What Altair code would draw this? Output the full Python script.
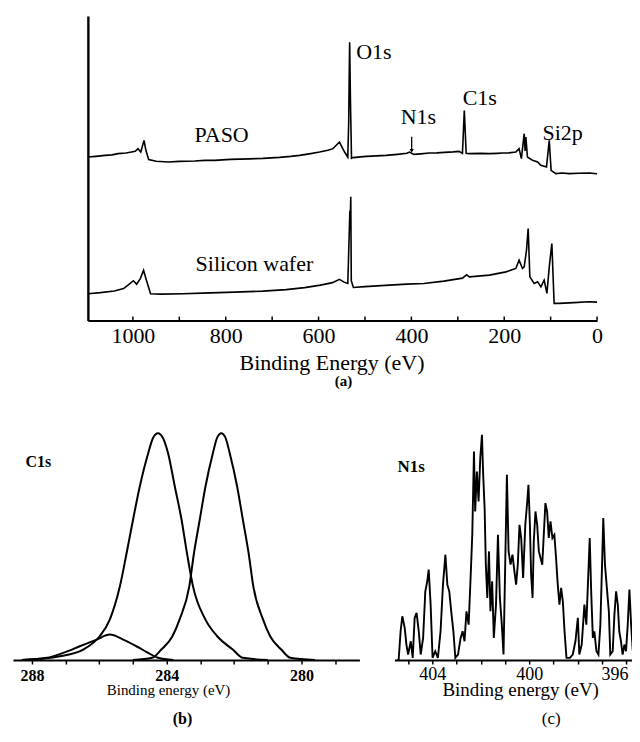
import altair as alt
import pandas as pd

FONT = "Liberation Serif, Times New Roman, Times, DejaVu Serif, serif"

# ---------------- (a) survey spectra ----------------
paso_ev = [1097, 1080, 1060, 1045, 1032, 1015, 1003, 995, 989, 983, 976, 972, 966, 950, 924, 900,
           867, 845, 824, 790, 749, 720, 684, 660, 641, 620, 598, 580, 569, 555, 544, 537, 535, 534,
           533, 531.3, 529, 526, 497.5, 475, 454.5, 430, 410, 404, 395, 380, 361, 345, 329, 310,
           297, 290, 286, 282, 275, 250, 232, 215, 204, 190, 175, 168, 163, 157, 155, 153.4, 150,
           139, 128, 121, 109, 103, 99, 89, 75, 60, 40, 17, 0]
paso_int = [163.8, 164.5, 165.5, 166, 167.2, 167.8, 168.8, 169.5, 172.2, 168.8, 180.5, 170.5, 161.2,
            159.5, 158.8, 159.5, 159.8, 160.5, 160.5, 161.5, 162, 162.5, 163.5, 164.5, 165.5, 167,
            168.8, 170.5, 172.2, 178.8, 168.8, 163.8, 200.5, 243.8, 278.8, 220.5, 162.5, 163.2,
            164.5, 165, 165.5, 166.5, 167.5, 168.8, 166.5, 167, 167.8, 168, 168.5, 169, 169.5,
            167.5, 210.5, 167.5, 167.2, 167.5, 167.2, 167.5, 167.8, 168, 168.8, 172.2, 162.2,
            187.2, 170, 183.8, 163.8, 160.5, 158.8, 155.5, 153.8, 180.5, 150.5, 147.2, 147.8,
            147.2, 147.6, 147.8, 147]

si_ev = [1097, 1070, 1040, 1020, 1010.5, 999, 992, 984, 977, 971, 962, 940, 892, 850, 781, 720,
         670, 630, 596, 570, 555, 545, 537, 532.5, 531.8, 530.6, 529.5, 525, 500, 447.6, 410,
         373.4, 330, 290, 281, 275, 232, 196, 175, 168, 160.7, 157, 152, 148.4, 144.8, 135.5,
         128, 121, 114, 108, 103, 97.4, 92.5, 81.7, 50, 17, 0]
si_int = [26.9, 28, 29.6, 32, 35.5, 39.9, 36.5, 42, 50.3, 40.6, 26.9, 26.5, 26.9, 27.5, 28.5, 29.5,
          31, 33, 35.5, 38, 41.3, 38.5, 37.2, 110, 100, 124, 40, 33.1, 34, 35.5, 36.5, 37.2, 39.5,
          42.5, 45.8, 43.8, 45.5, 48.8, 52.2, 60.5, 52.2, 53.8, 70.5, 92.2, 43.8, 37.2, 38.8, 33.8,
          40.5, 27.2, 53.8, 77.2, 17.2, 17.2, 18, 18.8, 18.5]

survey_ticks = [0, 100, 200, 300, 400, 500, 600, 700, 800, 900, 1000]
survey_labels = [0, 200, 400, 600, 800, 1000]

ann_a_text = ["O1s", "C1s", "N1s", "Si2p", "PASO", "Silicon wafer"]
ann_a_ev = [480.7, 252.7, 385, 74.2, 808.8, 738.2]
ann_a_int = [268.9, 222.5, 203.5, 187.9, 186.2, 56.8]
arrow_ev = [399.4]
arrow_top = [184]
arrow_bot = [170]

# ---------------- (b) C1s components ----------------
p1_ev = [288.3, 287.17, 286.48, 285.99, 285.69, 285.39, 285.19, 285.0, 284.8, 284.55, 284.4, 284.26,
         284.12, 283.96, 283.76, 283.56, 283.4, 283.22, 282.85, 282.5, 282.04, 281.74, 281.0]
p1_int = [0, 3.8, 10.5, 23.8, 40.5, 73.8, 107.2, 140.5, 173.8, 207.2, 223, 227.2, 223, 207.2, 173.8,
          140.5, 107.2, 73.8, 40.5, 23.8, 10.5, 2.2, 0]
p2_ev = [285.0, 284.43, 284.16, 283.83, 283.62, 283.33, 283.19, 283.02, 282.85, 282.63, 282.5, 282.38,
         282.26, 282.13, 281.91, 281.74, 281.57, 281.43, 281.14, 280.93, 280.6, 280.33, 279.6]
p2_int = [0, 2.2, 10.5, 23.8, 40.5, 73.8, 107.2, 140.5, 173.8, 207.2, 223, 227.2, 223, 207.2, 173.8,
          140.5, 107.2, 73.8, 40.5, 23.8, 10.5, 2.2, 0]
p3_ev = [288.3, 287.56, 287.07, 286.58, 286.08, 285.69, 285.29, 284.9, 284.55, 284.26, 283.8]
p3_int = [0, 2.2, 7.2, 13.8, 20.5, 25.5, 20.5, 13.8, 7.2, 2.2, 0]

# ---------------- (c) N1s ----------------
n_ev = [405.45, 405.39, 405.31, 405.24, 405.14, 405.07, 405.0, 404.89, 404.81, 404.73, 404.65, 404.56,
        404.48, 404.38, 404.29, 404.21, 404.15, 404.07, 403.99, 403.88, 403.77, 403.66, 403.56, 403.46,
        403.38, 403.3, 403.22, 403.13, 403.05, 402.94, 402.83, 402.75, 402.67, 402.59, 402.5, 402.42,
        402.35, 402.28, 402.23, 402.16, 402.09, 402.02, 401.95, 401.9, 401.84, 401.79, 401.73, 401.66,
        401.6, 401.53, 401.46, 401.37, 401.29, 401.21, 401.13, 401.06, 400.99, 400.92, 400.85, 400.77,
        400.69, 400.61, 400.54, 400.47, 400.4, 400.33, 400.25, 400.16, 400.08, 400.03, 399.97, 399.92,
        399.86, 399.81, 399.74, 399.67, 399.6, 399.53, 399.46, 399.39, 399.33, 399.26, 399.19, 399.12,
        399.04, 398.96, 398.89, 398.82, 398.75, 398.68, 398.61, 398.54, 398.46, 398.32, 398.2, 398.09,
        397.99, 397.93, 397.83, 397.72, 397.64, 397.57, 397.5, 397.44, 397.37, 397.31, 397.22, 397.14,
        397.06, 396.99, 396.94, 396.87, 396.78, 396.71, 396.65, 396.55, 396.48, 396.41, 396.34, 396.28,
        396.21, 396.14, 396.07, 396.0, 395.93, 395.86, 395.79, 395.72, 395.64]
n_int = [0, 0.5, 28.8, 43.8, 32.2, 15.5, 5.5, 18.8, 2.2, 42.2, 47.2, 28.8, 5.5, 22.2, 68.8, 78.8, 90.5,
         55.5, 2.2, 8.8, 2.2, 28.8, 75.5, 105.5, 75.5, 68.8, 48.8, 28.8, 2.2, 5.5, 22.2, 28.8, 18.8,
         48.8, 35.5, 82.2, 125.5, 208.8, 148.8, 188.8, 158.8, 202.2, 225.5, 185.5, 152.2, 95.5, 62.2,
         108.8, 48.8, 78.8, 22.2, 55.5, 125.5, 62.2, 35.5, 5.5, 95.5, 185.5, 108.8, 95.5, 105.5, 88.8,
         75.5, 95.5, 135.5, 122.2, 82.2, 135.5, 158.8, 175.5, 135.5, 85.5, 62.2, 118.8, 148.8, 135.5,
         108.8, 102.2, 95.5, 128.8, 157.2, 148.8, 122.2, 138.8, 122.2, 125.5, 102.2, 75.5, 55.5, 72.2,
         58.8, 28.8, 2.2, 2.2, 5.5, 18.8, 42.2, 5.5, 15.5, 55.5, 35.5, 78.8, 122.2, 68.8, 22.2, 28.8,
         8.8, 5.5, 35.5, 95.5, 142.2, 95.5, 68.8, 48.8, 5.5, 8.8, 45.5, 68.8, 55.5, 28.8, 18.8, 5.5,
         15.5, 8.8, 35.5, 70.5, 35.5, 8.8, 22.2]


def seq_df(ev, inten):
    return pd.DataFrame({"ev": ev, "inten": inten, "i": list(range(len(ev)))})


# ---------------- panel (a) ----------------
xa = alt.X("ev:Q",
           scale=alt.Scale(domain=[1097, 0], range=[75, 585], nice=False, zero=False),
           axis=alt.Axis(values=survey_labels, format="d", ticks=False, grid=False,
                         domainColor="black", domainWidth=2,
                         labelFont=FONT, labelFontSize=22, labelColor="black", labelPadding=5,
                         labelFlush=False, labelOverlap=False,
                         title="Binding Energy (eV)", titleFont=FONT, titleFontSize=22,
                         titleFontWeight="normal", titleColor="black", titleX=319, titleY=42.5,
                         titleBaseline="middle", titleAlign="center"))
ya = alt.Y("inten:Q",
           scale=alt.Scale(domain=[0, 305], nice=False, zero=False),
           axis=alt.Axis(labels=False, ticks=False, grid=False, title=None,
                         domainColor="black", domainWidth=2.4, offset=-75))

paso_line = alt.Chart(seq_df(paso_ev, paso_int)).mark_line(color="black", strokeWidth=1.6).encode(
    x=xa, y=ya, order="i:Q")
si_line = alt.Chart(seq_df(si_ev, si_int)).mark_line(color="black", strokeWidth=1.6).encode(
    x=xa, y=ya, order="i:Q")
ticks_df = pd.DataFrame({"ev": survey_ticks, "inten": [0] * len(survey_ticks),
                         "inten2": [4] * len(survey_ticks)})
tick_rules = alt.Chart(ticks_df).mark_rule(color="black", strokeWidth=1.5).encode(
    x=xa, y=ya, y2="inten2:Q")
ann_a = alt.Chart(pd.DataFrame({"ev": ann_a_ev, "inten": ann_a_int, "label": ann_a_text})).mark_text(
    font=FONT, fontSize=22, color="black", baseline="middle", align="center").encode(
    x=xa, y=ya, text="label:N")
arrow_df = pd.DataFrame({"ev": arrow_ev, "inten": arrow_top, "inten2": arrow_bot})
arrow_rule = alt.Chart(arrow_df).mark_rule(color="black", strokeWidth=1.3).encode(
    x=xa, y=ya, y2="inten2:Q")
arrow_head = alt.Chart(pd.DataFrame({"ev": arrow_ev, "inten": arrow_bot})).mark_point(
    shape="triangle-down", filled=True, color="black", size=18, opacity=1).encode(x=xa, y=ya)
tag_a = alt.Chart(pd.DataFrame({"ev": [546.3], "inten": [-60.5], "label": ["(a)"]})).mark_text(
    font=FONT, fontSize=15, fontWeight="bold", color="black", baseline="middle", align="center").encode(
    x=xa, y=ya, text="label:N")

panel_a = alt.layer(paso_line, si_line, tick_rules, ann_a, arrow_rule, arrow_head, tag_a).properties(
    width=585, height=305)

# ---------------- panel (b) ----------------
xb = alt.X("ev:Q",
           scale=alt.Scale(domain=[288.563, 278.28], nice=False, zero=False),
           axis=alt.Axis(values=list(range(279, 289)), format="d",
                         labelExpr="datum.value % 4 == 0 ? datum.label : ''",
                         tickSize=4, tickWidth=1.5, tickColor="black", grid=False,
                         domainColor="black", domainWidth=2,
                         labelFont=FONT, labelFontSize=16, labelFontWeight="bold", labelColor="black",
                         labelPadding=4, labelFlush=False, labelOverlap=False,
                         title="Binding energy (eV)", titleFont=FONT, titleFontSize=15,
                         titleFontWeight="normal", titleColor="black", titleX=155.3, titleY=30,
                         titleBaseline="middle", titleAlign="center"))
yb = alt.Y("inten:Q", scale=alt.Scale(domain=[0, 240], nice=False, zero=False), axis=None)

b_layers = []
for ev, inten in [(p1_ev, p1_int), (p2_ev, p2_int), (p3_ev, p3_int)]:
    b_layers.append(alt.Chart(seq_df(ev, inten)).mark_line(
        color="black", strokeWidth=2, interpolate="monotone").encode(x=xb, y=yb, order="i:Q"))
b_layers.append(alt.Chart(pd.DataFrame({"ev": [287.81], "inten": [198.8], "label": ["C1s"]})).mark_text(
    font=FONT, fontSize=16, fontWeight="bold", color="black", baseline="middle", align="center").encode(
    x=xb, y=yb, text="label:N"))
b_layers.append(alt.Chart(pd.DataFrame({"ev": [283.53], "inten": [-59.5], "label": ["(b)"]})).mark_text(
    font=FONT, fontSize=16, fontWeight="bold", color="black", baseline="middle", align="center").encode(
    x=xb, y=yb, text="label:N"))
panel_b = alt.layer(*b_layers).properties(width=347, height=240)

# ---------------- panel (c) ----------------
xc = alt.X("ev:Q",
           scale=alt.Scale(domain=[405.567, 395.63], nice=False, zero=False),
           axis=alt.Axis(values=list(range(396, 406)), format="d",
                         labelExpr="datum.value % 4 == 0 ? datum.label : ''",
                         tickSize=4, tickWidth=1.5, tickColor="black", grid=False,
                         domainColor="black", domainWidth=2,
                         labelFont=FONT, labelFontSize=18, labelColor="black",
                         labelPadding=1, labelFlush=12, labelFlushOffset=2, labelOverlap=False,
                         title="Binding energy (eV)", titleFont=FONT, titleFontSize=19,
                         titleFontWeight="normal", titleColor="black", titleX=126, titleY=29.5,
                         titleBaseline="middle", titleAlign="center"))
yc = alt.Y("inten:Q", scale=alt.Scale(domain=[0, 240], nice=False, zero=False), axis=None)

n_line = alt.Chart(seq_df(n_ev, n_int)).mark_line(color="black", strokeWidth=1.9).encode(
    x=xc, y=yc, order="i:Q")
n_lab = alt.Chart(pd.DataFrame({"ev": [404.87], "inten": [193.8], "label": ["N1s"]})).mark_text(
    font=FONT, fontSize=17, fontWeight="bold", color="black", baseline="middle", align="center").encode(
    x=xc, y=yc, text="label:N")
tag_c = alt.Chart(pd.DataFrame({"ev": [399.09], "inten": [-59.5], "label": ["(c)"]})).mark_text(
    font=FONT, fontSize=17, color="black", baseline="middle", align="center").encode(
    x=xc, y=yc, text="label:N")
panel_c = alt.layer(n_line, n_lab, tag_c).properties(width=241, height=240)

row2 = alt.hconcat(panel_b, panel_c, spacing=35, bounds="flush")
chart = alt.vconcat(panel_a, row2, spacing=100, bounds="flush").properties(
    padding={"left": 5, "top": 7.5, "right": -7, "bottom": -1}
).configure(background="white").configure_view(stroke=None)

chart.save("out.html", embed_options={"renderer": "svg", "actions": False})
